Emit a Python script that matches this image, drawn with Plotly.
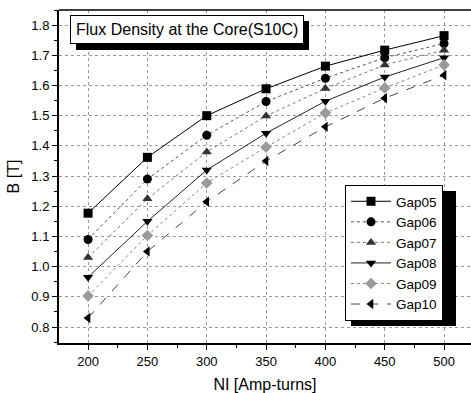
import plotly.graph_objects as go

ni = [200, 250, 300, 350, 400, 450, 500]
gap05 = [1.177, 1.362, 1.500, 1.589, 1.664, 1.717, 1.765]
gap06 = [1.090, 1.290, 1.435, 1.547, 1.624, 1.692, 1.739]
gap07 = [1.030, 1.225, 1.380, 1.499, 1.590, 1.668, 1.717]
gap08 = [0.965, 1.150, 1.320, 1.442, 1.548, 1.628, 1.692]
gap09 = [0.903, 1.103, 1.277, 1.396, 1.509, 1.592, 1.668]
gap10 = [0.830, 1.050, 1.215, 1.350, 1.463, 1.558, 1.634]

series = [
    ("Gap05", gap05, "square", "solid", "#000000", "#000000"),
    ("Gap06", gap06, "circle", "dot", "#000000", "#555555"),
    ("Gap07", gap07, "triangle-up", "dot", "#333333", "#777777"),
    ("Gap08", gap08, "triangle-down", "solid", "#000000", "#222222"),
    ("Gap09", gap09, "diamond", "dot", "#9a9a9a", "#888888"),
    ("Gap10", gap10, "triangle-left", "dash", "#000000", "#444444"),
]

fig = go.Figure()
for name, ys, sym, dash, mc, lc in series:
    fig.add_trace(go.Scatter(
        x=ni, y=ys, name=name, mode="lines+markers",
        line=dict(color=lc, width=1, dash=dash),
        marker=dict(symbol=sym, size=9, color=mc),
    ))

font = "Liberation Sans, Arial, sans-serif"
L, T, B = 59, 10, 50
W, H = 471, 393
pw, ph = W - L, H - T - B

def px(x):
    return (x - L) / pw

def py(y):
    return (H - B - y) / ph

fig.update_layout(
    width=W, height=H,
    margin=dict(l=L, r=0, t=T, b=B),
    paper_bgcolor="white", plot_bgcolor="white",
    font=dict(family=font, color="black", size=13),
    showlegend=True,
    legend=dict(
        x=px(345), y=py(185), xanchor="left", yanchor="top",
        bgcolor="white", bordercolor="black", borderwidth=1,
        font=dict(size=13.5, family=font),
        tracegroupgap=0, itemwidth=40,
    ),
    xaxis=dict(
        range=[175.5, 522.7], tickvals=[200, 250, 300, 350, 400, 450, 500],
        showgrid=True, gridcolor="#999999", griddash="dot", gridwidth=1,
        showline=True, linecolor="black", linewidth=2,
        ticks="outside", ticklen=5, tickcolor="black",
        minor=dict(dtick=25, ticks="outside", ticklen=3, tickcolor="black", showgrid=False),
        zeroline=False,
        title=dict(text="NI [Amp-turns]", font=dict(size=16), standoff=12),
        tickfont=dict(size=13),
    ),
    yaxis=dict(
        range=[0.747, 1.85], tickvals=[0.8, 0.9, 1.0, 1.1, 1.2, 1.3, 1.4, 1.5, 1.6, 1.7, 1.8],
        ticktext=["0.8", "0.9", "1.0", "1.1", "1.2", "1.3", "1.4", "1.5", "1.6", "1.7", "1.8"],
        showgrid=True, gridcolor="#999999", griddash="dot", gridwidth=1,
        showline=True, linecolor="black", linewidth=2,
        ticks="outside", ticklen=5, tickcolor="black",
        minor=dict(dtick=0.05, ticks="outside", ticklen=3, tickcolor="black", showgrid=False),
        zeroline=False,
        title=dict(text="B [T]", font=dict(size=16), standoff=8),
        tickfont=dict(size=13),
    ),
    shapes=[
        dict(type="line", xref="paper", yref="paper", x0=0, x1=1, y0=1, y1=1,
             line=dict(color="black", width=1.5)),
        # title box shadow
        dict(type="rect", xref="paper", yref="paper",
             x0=px(76), x1=px(309), y0=py(50), y1=py(21),
             fillcolor="black", line=dict(width=0), layer="above"),
        # legend shadow
        dict(type="rect", xref="paper", yref="paper",
             x0=px(351), x1=px(456), y0=py(326), y1=py(191),
             fillcolor="black", line=dict(width=0), layer="above"),
    ],
    annotations=[
        dict(text="Flux Density at the Core(S10C)", xref="paper", yref="paper",
             x=px(70), y=py(15), xanchor="left", yanchor="top",
             showarrow=False, bgcolor="white", bordercolor="black", borderwidth=1,
             borderpad=5, font=dict(size=16, family=font)),
    ],
)

fig.write_html("out.html")
